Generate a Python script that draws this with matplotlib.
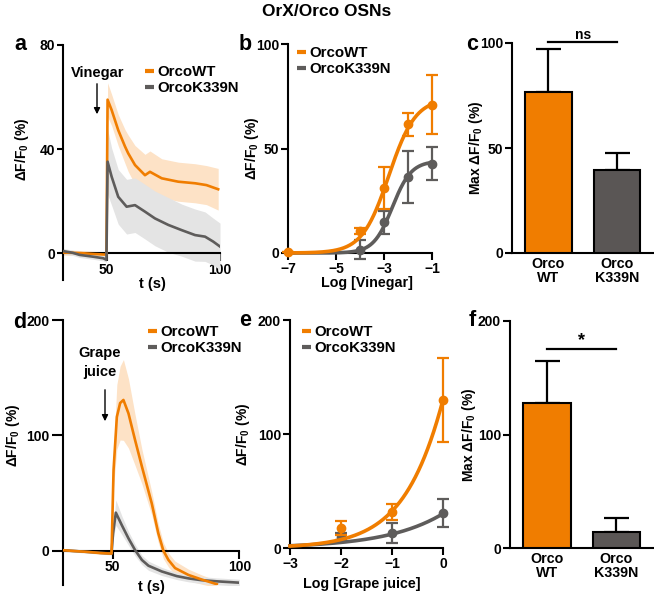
import numpy as np
import matplotlib
matplotlib.use("Agg")
import matplotlib.pyplot as plt
from matplotlib.lines import Line2D

plt.rcParams['font.family'] = ['Liberation Sans', 'DejaVu Sans']
plt.rcParams['font.weight'] = 'bold'
plt.rcParams['mathtext.fontset'] = 'custom'
plt.rcParams['mathtext.rm'] = 'Liberation Sans:bold'
plt.rcParams['mathtext.default'] = 'rm'
plt.rcParams['axes.linewidth'] = 1.5

ORANGE = '#F07D00'
GRAY = '#5E5C5B'
ORANGE_BAND = '#FDE2C6'
GRAY_BAND = '#E4E4E4'
BAR_GRAY = '#5A5655'

# ---- Panel a: vinegar time traces ----
t_a_wt = [30.5, 35, 40, 45, 49.9, 50.4, 52.2, 55.1, 58.1, 59.5, 62.5, 66.9, 69.1, 74.3, 81.6, 89, 94, 99.2]
y_a_wt = [0.3, 0.2, 0.0, -0.3, -0.5, 59, 55, 47.3, 41, 38.4, 33.9, 30, 31.3, 28.8, 27.5, 26.9, 26.2, 24.6]
e_a_wt = [1, 1, 1, 1, 1, 6.5, 6, 6, 6.5, 7, 7.5, 8, 8, 7.5, 7.5, 7.5, 7.5, 8]
t_a_mut = [30.5, 35, 38, 44, 48.5, 49.9, 50.4, 52.2, 55.1, 58.8, 62.5, 66.9, 71.3, 77.2, 83.1, 89, 93.4, 97, 100]
y_a_mut = [0.9, 0.2, -0.6, -1.3, -1.9, -2.5, 35.2, 29.4, 21.7, 17.9, 18.5, 16, 13.4, 10.9, 8.9, 7, 6.4, 4.5, 2.6]
e_a_mut = [1, 1, 1, 1, 1, 1, 12.5, 11, 10.5, 10.5, 10.5, 10.5, 10.5, 10.5, 10, 10, 9.5, 9, 9]

# ---- Panel d: grape juice time traces ----
t_d_wt = [30, 35, 40, 45, 49.5, 50.3, 51.6, 52.9, 54.2, 56.2, 58.8, 61.5, 65.4, 68, 70, 72, 74.6, 79.9, 85.2, 91.1]
y_d_wt = [0.5, -0.3, -1, -2, -2.5, 70, 116, 128, 130.7, 119, 96, 73, 41, 15, 0, -8, -15, -21, -25, -29]
e_d_wt = [1, 1, 1, 1, 1, 15, 28, 32, 35, 30, 22, 15, 10, 8, 7, 6, 6, 5, 4, 3]
t_d_mut = [30, 40, 49.5, 50.1, 51.2, 53.6, 56.2, 58.8, 61.5, 64.1, 69.4, 75.3, 80, 85, 91, 100]
y_d_mut = [0.5, -1, -2.5, 15, 33, 22, 10.7, 0.6, -8, -13, -18, -22, -24, -25.5, -26.5, -27.7]
e_d_mut = [1, 1, 1, 5, 11, 8, 6, 5, 4, 4, 3.5, 3, 3, 3, 3, 3]

# ---- Panel b: vinegar dose response ----
logc_b_wt = [-7, -4, -3, -2, -1]
mean_b_wt = [0.5, 10.7, 31, 61.6, 71]
err_b_wt = [0, 1.5, 10, 5.5, 14]
logc_b_mut = [-4, -3, -2, -1]
mean_b_mut = [1.6, 14.6, 36.3, 42.7]
err_b_mut = [4.5, 5.5, 12.3, 7.8]
fit_b_wt = dict(top=74, logec50=-2.8, hill=0.78)
fit_b_mut = dict(top=44, logec50=-2.65, hill=1.1)

# ---- Panel e: grape juice dose response ----
logc_e = [-2, -1, 0]
mean_e_wt = [17.5, 32, 130]
err_e_wt = [6.5, 7, 37]
mean_e_mut = [10, 13, 30.6]
err_e_mut = [3, 9, 12.5]
fit_e_wt = dict(top=1000, logec50=1.27, hill=0.65)
fit_e_mut = dict(top=1000, logec50=3.77, hill=0.4)

# ---- Panels c, f: max response bars ----
bar_labels = ['Orco\nWT', 'Orco\nK339N']
max_c = [76.6, 39.5]
max_c_err = [20.7, 8.0]
max_f = [127.4, 14.0]
max_f_err = [37.6, 12.0]

W, H = 654, 599
fig = plt.figure(figsize=(W / 100, H / 100), dpi=100)


def axpos(l, t, r, b):
    return [l / W, 1 - b / H, (r - l) / W, (b - t) / H]


def fx(x):
    return x / W


def fy(y):
    return 1 - y / H


def hill(x, top, logec50, hill):
    return top / (1 + 10 ** ((logec50 - x) * hill))


TICK_FS = 10
LAB_FS = 10
LEG_FS = 10.8
ANN_FS = 10.5


def style(ax, ylen=5, xlen=5):
    ax.spines['top'].set_visible(False)
    ax.spines['right'].set_visible(False)
    ax.tick_params(width=1.5, labelsize=TICK_FS, pad=1.5)
    ax.tick_params(axis='y', length=ylen)
    ax.tick_params(axis='x', length=xlen)
    for lab in ax.get_xticklabels() + ax.get_yticklabels():
        lab.set_fontweight('bold')


def legend(ax, x, y):
    handles = [Line2D([], [], color=ORANGE, lw=3, solid_capstyle='butt'),
               Line2D([], [], color=GRAY, lw=3, solid_capstyle='butt')]
    leg = ax.legend(handles, ['OrcoWT', 'OrcoK339N'], loc='upper left',
                    bbox_to_anchor=(fx(x), fy(y)), bbox_transform=fig.transFigure,
                    frameon=False, handlelength=0.6, handletextpad=0.25,
                    labelspacing=0.15, borderpad=0, borderaxespad=0,
                    prop={'size': LEG_FS, 'weight': 'bold'})
    return leg


def trace_panel(ax, tw, yw, ew, tm, ym, em, xlim, ylim, yticks, wt_on_top, ylen):
    tw, yw, ew = map(np.asarray, (tw, yw, ew))
    tm, ym, em = map(np.asarray, (tm, ym, em))
    ax.fill_between(tw, yw - ew, yw + ew, color=ORANGE_BAND, lw=0, zorder=1)
    ax.fill_between(tm, ym - em, ym + em, color=GRAY_BAND, lw=0, zorder=2)
    ax.plot(tm, ym, color=GRAY, lw=1.9, zorder=4 if not wt_on_top else 3)
    ax.plot(tw, yw, color=ORANGE, lw=1.9, zorder=4 if wt_on_top else 3)
    ax.set_xlim(*xlim)
    ax.set_ylim(*ylim)
    ax.set_yticks(yticks)
    ax.set_xticks([50, 100])
    ax.spines['bottom'].set_position(('data', 0))
    ax.set_xlabel('t (s)', fontsize=LAB_FS + 0.5, fontweight='bold', labelpad=0)
    ax.set_ylabel('ΔF/F$_0$ (%)', fontsize=LAB_FS, fontweight='bold')
    style(ax, ylen=ylen, xlen=5.5)


# Panel a
ax_a = fig.add_axes(axpos(62.7, 45, 220, 280))
trace_panel(ax_a, t_a_wt, y_a_wt, e_a_wt, t_a_mut, y_a_mut, e_a_mut,
            (30.6, 100), (-10.25, 80), [0, 40, 80], wt_on_top=False, ylen=4)
ax_a.xaxis.label.set_x(0.57)
ax_a.yaxis.set_label_coords(-0.2, 0.555)
legend(ax_a, 145, 65)
fig.text(fx(98), fy(73), 'Vinegar', ha='center', va='center', fontsize=ANN_FS, fontweight='bold')
ax_a.annotate('', xy=(fx(97), fy(117)), xytext=(fx(97), fy(81)),
              xycoords='figure fraction', textcoords='figure fraction',
              arrowprops=dict(arrowstyle='-|>', color='black', lw=1.0, mutation_scale=9))

# Panel d
ax_d = fig.add_axes(axpos(62.7, 320, 239.3, 585))
trace_panel(ax_d, t_d_wt, y_d_wt, e_d_wt, t_d_mut, y_d_mut, e_d_mut,
            (30.2, 100), (-29.7, 200), [0, 100, 200], wt_on_top=True, ylen=8)
ax_d.xaxis.labelpad = 4
ax_d.yaxis.set_label_coords(-0.23, 0.566)
legend(ax_d, 148, 325)
fig.text(fx(100), fy(353), 'Grape', ha='center', va='center', fontsize=ANN_FS, fontweight='bold')
fig.text(fx(100), fy(372), 'juice', ha='center', va='center', fontsize=ANN_FS, fontweight='bold')
ax_d.annotate('', xy=(fx(105), fy(424)), xytext=(fx(105), fy(387)),
              xycoords='figure fraction', textcoords='figure fraction',
              arrowprops=dict(arrowstyle='-|>', color='black', lw=1.0, mutation_scale=9))


def dose_panel(ax, xw, mw, ew, xm, mm, em, fw, fm, xlim, ylim, xticks, yticks, xlabel):
    xs = np.linspace(xlim[0], xlim[1], 300)
    ax.plot(xs, hill(xs, **fm), color=GRAY, lw=2.6, zorder=3, clip_on=False)
    ax.errorbar(xm, mm, yerr=em, fmt='o', color=GRAY, ms=6, elinewidth=1.6,
                capsize=4, capthick=1.6, zorder=4, clip_on=False)
    ax.plot(xs, hill(xs, **fw), color=ORANGE, lw=2.6, zorder=5, clip_on=False)
    ax.errorbar(xw, mw, yerr=ew, fmt='o', color=ORANGE, ms=6, elinewidth=1.6,
                capsize=4, capthick=1.6, zorder=6, clip_on=False)
    ax.set_xlim(*xlim)
    ax.set_ylim(*ylim)
    ax.set_xticks(xticks)
    ax.set_yticks(yticks)
    ax.set_xlabel(xlabel, fontsize=LAB_FS + 0.3, fontweight='bold', labelpad=0)
    ax.set_ylabel('ΔF/F$_0$ (%)', fontsize=LAB_FS, fontweight='bold')
    style(ax)


# Panel b
ax_b = fig.add_axes(axpos(288, 44, 432, 253))
dose_panel(ax_b, logc_b_wt, mean_b_wt, err_b_wt, logc_b_mut, mean_b_mut, err_b_mut,
           fit_b_wt, fit_b_mut, (-7, -1), (0, 100), [-7, -5, -3, -1], [0, 50, 100],
           'Log [Vinegar]')
ax_b.xaxis.label.set_x(0.55)
ax_b.yaxis.set_label_coords(-0.19, 0.5)
legend(ax_b, 297, 46)

# Panel e
ax_e = fig.add_axes(axpos(290, 320, 443, 548))
dose_panel(ax_e, logc_e, mean_e_wt, err_e_wt, logc_e, mean_e_mut, err_e_mut,
           fit_e_wt, fit_e_mut, (-3, 0), (0, 200), [-3, -2, -1, 0], [0, 100, 200],
           'Log [Grape juice]')
ax_e.xaxis.labelpad = 4
ax_e.xaxis.label.set_x(0.47)
ax_e.yaxis.set_label_coords(-0.25, 0.5)
legend(ax_e, 302, 325)


def bar_panel(ax, vals, errs, ylim, yticks, sig_y, sig_txt, sig_fs):
    xs = [0, 1]
    ax.bar(xs, vals, width=0.68, color=[ORANGE, BAR_GRAY], edgecolor='black',
           linewidth=1.5, zorder=3)
    ax.errorbar(xs, vals, yerr=[[0, 0], errs], fmt='none', ecolor='black',
                elinewidth=1.6, capsize=9, capthick=1.6, zorder=2)
    ax.plot([0, 1], [sig_y, sig_y], color='black', lw=1.6, clip_on=False)
    ax.text(0.5, sig_y, sig_txt, ha='center', va='bottom', fontsize=sig_fs,
            fontweight='bold')
    ax.set_xlim(-0.53, 1.54)
    ax.set_ylim(*ylim)
    ax.set_yticks(yticks)
    ax.set_xticks(xs)
    ax.set_xticklabels(bar_labels, fontsize=TICK_FS + 0.3, fontweight='bold',
                       linespacing=0.95)
    ax.set_ylabel('Max ΔF/F$_0$ (%)', fontsize=LAB_FS, fontweight='bold')
    style(ax)
    ax.tick_params(axis='x', length=0, pad=3, labelsize=TICK_FS + 0.3)


# Panel c
ax_c = fig.add_axes(axpos(512, 43, 654, 253))
bar_panel(ax_c, max_c, max_c_err, (0, 100), [0, 50, 100], 100.5, 'ns', 10)
ax_c.yaxis.set_label_coords(-0.19, 0.5)

# Panel f
ax_f = fig.add_axes(axpos(510, 321, 654, 548))
bar_panel(ax_f, max_f, max_f_err, (0, 200), [0, 100, 200], 175, '*', 13)
ax_f.yaxis.set_label_coords(-0.225, 0.5)

# Panel letters and title
for letter, x, y in [('a', 20, 45), ('b', 245, 45), ('c', 472, 44),
                     ('d', 20, 322), ('e', 245, 320), ('f', 472, 321)]:
    fig.text(fx(x), fy(y), letter, ha='center', va='center', fontsize=15.5,
             fontweight='bold')
fig.text(0.5, fy(12), 'OrX/Orco OSNs', ha='center', va='center', fontsize=12.5,
         fontweight='bold')

fig.savefig('out.png', dpi=100)
